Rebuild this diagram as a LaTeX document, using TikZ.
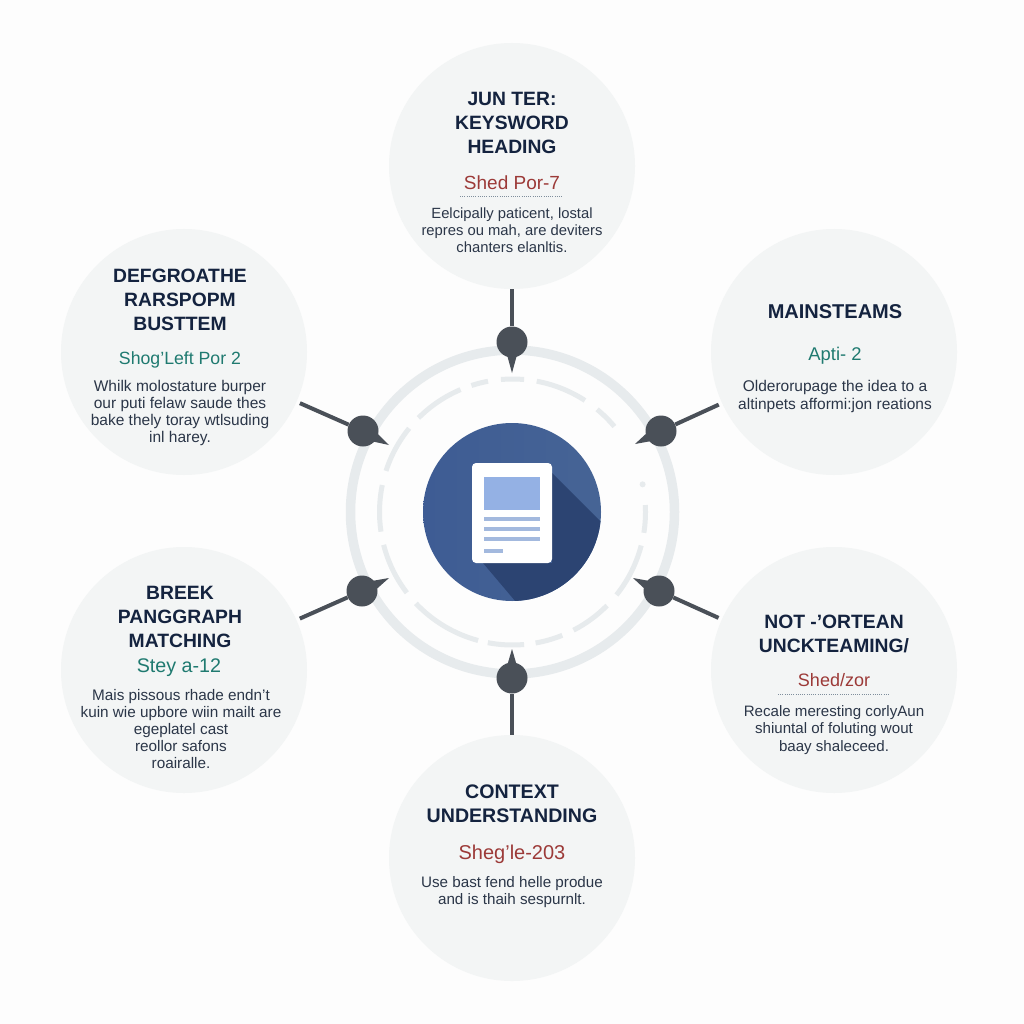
\documentclass[tikz,border=0pt]{standalone}
\usepackage{fontspec}
\setmainfont{Liberation Sans}
\usetikzlibrary{calc}
\definecolor{bgc}{HTML}{FDFDFD}
\definecolor{bubble}{HTML}{F3F5F5}
\definecolor{ringc}{HTML}{E7EBED}
\definecolor{pinc}{HTML}{4A5058}
\definecolor{headc}{HTML}{14233F}
\definecolor{redc}{HTML}{9C3A38}
\definecolor{tealc}{HTML}{1F7A70}
\definecolor{bodyc}{HTML}{2B3648}
\definecolor{blueA}{HTML}{3E5C94}
\definecolor{blueB}{HTML}{466495}
\definecolor{shadowc}{HTML}{2C4472}
\definecolor{imgc}{HTML}{94B1E4}
\definecolor{linec}{HTML}{A3B9DE}
\definecolor{dotc}{HTML}{7F8E9C}
\tikzset{
  bubblenode/.style={circle,fill=bubble,minimum size=246pt,inner sep=0pt},
  pinnode/.style={circle,fill=pinc,minimum size=31pt,inner sep=0pt},
  stem/.style={draw=pinc,line width=4.5pt},
  diagstem/.style={stem,line width=4pt,shorten <=3.5pt},
  outerring/.style={draw=ringc,line width=9.5pt},
  dashring/.style={draw=ringc,line width=5pt},
  head/.style={font=\fontsize{#1}{24}\selectfont\bfseries,text=headc,align=center,inner sep=0pt},
  head/.default=19.3,
  subred/.style={font=\fontsize{#1}{20}\selectfont,text=redc,align=center,inner sep=0pt},
  subteal/.style={font=\fontsize{#1}{20}\selectfont,text=tealc,align=center,inner sep=0pt},
  bodytext/.style={font=\fontsize{#1}{17.2}\selectfont,text=bodyc,align=center,inner sep=0pt},
  dotline/.style={draw=dotc,line width=1pt,dash pattern=on 1pt off 1.2pt},
  x=1pt,y=-1pt
}
\newcommand{\pinmark}[2]{%
  \fill[pinc] ($(#1)!8.5pt!90:(#2)$) -- (#2) -- ($(#1)!8.5pt!-90:(#2)$) -- cycle;}
\begin{document}
\begin{tikzpicture}
\useasboundingbox (0,0) rectangle (1024,1024);
\fill[bgc] (0,0) rectangle (1024,1024);
% bubbles
\node[bubblenode] (cT) at (512,166) {};
\node[bubblenode] (cUL) at (184,352) {};
\node[bubblenode] (cUR) at (834,352) {};
\node[bubblenode] (cLL) at (184,670) {};
\node[bubblenode] (cLR) at (834,670) {};
\node[bubblenode] (cB) at (512,858) {};
% rings
\coordinate (hub) at (512.5,512);
\draw[outerring] (hub) circle[radius=162];
\foreach \a/\b in {-95/-85,-108/-100.6,-79.5/-57,-50.5/-40,-3/9,14.6/38.6,44.7/62.7,68/80,85/100.7,105/136.6,142.6/165.7,171.5/191.7,198/219,225/247}{
  \draw[dashring] ($(hub)+(\a:133)$) arc[start angle=\a,end angle=\b,radius=133];
}
\fill[ringc] ($(hub)+(-12:133)$) circle[radius=3];
% centre disc
\node[circle,minimum size=178pt,inner sep=0pt,left color=blueA,right color=blueB] (disc) at (512,512) {};
\begin{scope}
  \clip (512,512) circle[radius=89];
  \fill[shadowc] (552,473) -- (652,573) -- (652,660) -- (565,660) -- (483,563) -- (552,563) -- cycle;
\end{scope}
% document
\node[fill=white,rounded corners=4pt,minimum width=80pt,minimum height=100pt,inner sep=0pt] (docu) at (512,513) {};
\fill[imgc] (484,477) rectangle (540,510);
\fill[linec] (484,517.3) rectangle (540,520.7);
\fill[linec] (484,527.3) rectangle (540,530.7);
\fill[linec] (484,537.3) rectangle (540,540.7);
\fill[linec] (484,549.3) rectangle (503,552.7);
% pins
\node[pinnode] (pT) at (512,342) {};
\node[pinnode] (pUL) at (363,431) {};
\node[pinnode] (pUR) at (661,431) {};
\node[pinnode] (pLL) at (362,591) {};
\node[pinnode] (pLR) at (659,591) {};
\node[pinnode] (pB) at (512,678) {};
\coordinate (tT) at (512,373);
\coordinate (tUL) at (389,445);
\coordinate (tUR) at (635,444);
\coordinate (tLL) at (389,578);
\coordinate (tLR) at (633,578);
\coordinate (tB) at (512,649);
\pinmark{pT}{tT}
\pinmark{pUL}{tUL}
\pinmark{pUR}{tUR}
\pinmark{pLL}{tLL}
\pinmark{pLR}{tLR}
\pinmark{pB}{tB}
\draw[stem] (cT) -- (pT);
\draw[diagstem] (cUL) -- (pUL);
\draw[diagstem] (cUR) -- (pUR);
\draw[diagstem] (cLL) -- (pLL);
\draw[diagstem] (cLR) -- (pLR);
\draw[stem] (cB) -- (pB);
% top
\node[head] (h1) at (512,123) {JUN TER:\\KEYSWORD\\HEADING};
\node[subred=19] (s1) at (512,183) {Shed Por-7};
\coordinate (d1a) at (460,197); \coordinate (d1b) at (563,197);
\draw[dotline] (d1a) -- (d1b);
\node[bodytext=14.8] (b1) at (512,230) {Eelcipally paticent, lostal\\repres ou mah, are deviters\\chanters elanltis.};
% upper left
\node[head] (h2) at (180,300) {DEFGROATHE\\RARSPOPM\\BUSTTEM};
\node[subteal=17.7] (s2) at (180,360) {Shog'Left Por 2};
\node[bodytext=15.5] (b2) at (180,413) {Whilk molostature burper\\our puti felaw saude thes\\bake thely toray wtlsuding\\inl harey.};
% upper right
\node[head=20] (h3) at (835,312) {MAINSTEAMS};
\node[subteal=18.4] (s3) at (835,356) {Apti- 2};
\node[bodytext=15.5] (b3) at (835,396.5) {Olderorupage the idea to a\\altinpets afformi:jon reations};
% lower left
\node[head] (h4) at (180,617) {BREEK\\PANGGRAPH\\MATCHING};
\node[subteal=19.7] (s4) at (179,668) {Stey a-12};
\node[bodytext=15.3] (b4) at (181,729) {Mais pissous rhade endn't\\kuin wie upbore wiin mailt are\\egeplatel cast\\reollor safons\\roairalle.};
% lower right
\node[head] (h5) at (834,634) {NOT -'ORTEAN\\UNCKTEAMING/};
\node[subred=18] (s5) at (834,680) {Shed/zor};
\coordinate (d5a) at (778,694); \coordinate (d5b) at (890,694);
\draw[dotline] (d5a) -- (d5b);
\node[bodytext=15.1] (b5) at (834,730) {Recale meresting corlyAun\\shiuntal of foluting wout\\baay shaleceed.};
% bottom
\node[head=19.6] (h6) at (512,804) {CONTEXT\\UNDERSTANDING};
\node[subred=20] (s6) at (512,854) {Sheg'le-203};
\node[bodytext=15.2] (b6) at (512,892) {Use bast fend helle produe\\and is thaih sespurnlt.};
\end{tikzpicture}
\end{document}
